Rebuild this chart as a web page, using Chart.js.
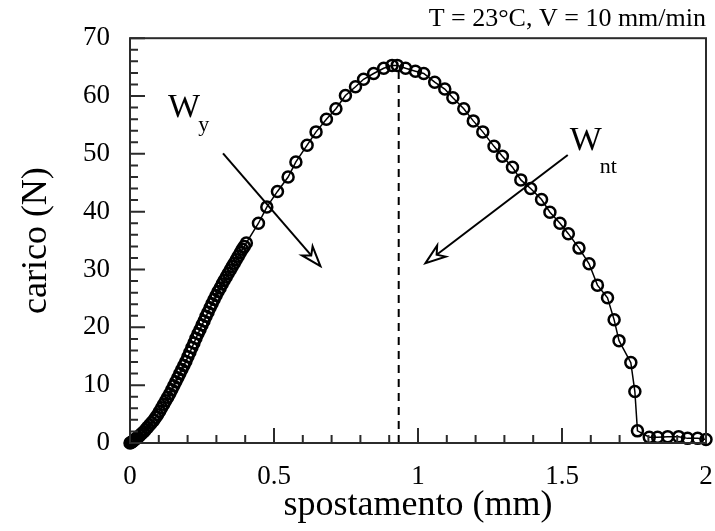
<!DOCTYPE html>
<html>

<head>
    <title>carico - spostamento</title>
    <script src="https://cdn.jsdelivr.net/npm/chart.js@4.4.0/dist/chart.umd.min.js"></script>

    <style type="text/css">
        html,
        body {
            margin: 0;
            padding: 0;
            background-color: #ffffff;
        }

        #box {
            width: 715px;
            height: 531px;
        }
    </style>
</head>

<body>
    <div id="box">
        <canvas id="chartLoad" width="715" height="531"></canvas>
    </div>

    <script>
        // spostamento (mm)
        const spostamento = [
            0.000, 0.004, 0.008, 0.012, 0.017, 0.022, 0.028, 0.034, 0.040, 0.047,
            0.054, 0.061, 0.068, 0.075, 0.082, 0.089, 0.096, 0.103, 0.110, 0.117,
            0.124, 0.131, 0.138, 0.145, 0.152, 0.159, 0.166, 0.173, 0.180, 0.187,
            0.194, 0.201, 0.208, 0.215, 0.222, 0.229, 0.236, 0.243, 0.250, 0.257,
            0.264, 0.271, 0.278, 0.285, 0.292, 0.299, 0.306, 0.313, 0.320, 0.327,
            0.334, 0.341, 0.348, 0.355, 0.362, 0.369, 0.376, 0.383, 0.390, 0.397,
            0.404,
            0.446, 0.475, 0.512, 0.549, 0.576, 0.615, 0.646, 0.682, 0.715, 0.748,
            0.783, 0.811, 0.846, 0.881, 0.910, 0.928, 0.957, 0.991, 1.020, 1.058,
            1.093, 1.121, 1.159, 1.192, 1.225, 1.264, 1.293, 1.328, 1.357, 1.391,
            1.429, 1.458, 1.493, 1.522, 1.559, 1.594, 1.623, 1.658, 1.681, 1.698,
            1.739, 1.753, 1.762, 1.803, 1.832, 1.867, 1.905, 1.936, 1.971, 2.000
        ];

        // carico (N)
        const carico = [
            0.0, 0.1, 0.2, 0.4, 0.6, 0.8, 1.0, 1.3, 1.6, 1.9,
            2.3, 2.7, 3.1, 3.5, 3.9, 4.4, 4.9, 5.5, 6.1, 6.7,
            7.3, 7.9, 8.5, 9.2, 9.9, 10.6, 11.3, 12.0, 12.7, 13.4,
            14.1, 14.9, 15.7, 16.5, 17.3, 18.1, 18.9, 19.6, 20.4, 21.1,
            21.9, 22.6, 23.4, 24.1, 24.8, 25.5, 26.2, 26.8, 27.5, 28.1,
            28.7, 29.3, 29.9, 30.5, 31.1, 31.7, 32.3, 32.9, 33.5, 34.0,
            34.6,
            38.0, 40.8, 43.5, 46.0, 48.6, 51.5, 53.8, 56.0, 57.8, 60.1,
            61.6, 62.9, 63.9, 64.8, 65.3, 65.3, 64.8, 64.3, 63.9, 62.4,
            61.2, 59.7, 57.8, 55.7, 53.8, 51.3, 49.6, 47.7, 45.5, 44.0,
            42.1, 39.9, 38.0, 36.2, 33.7, 31.0, 27.3, 25.1, 21.3, 17.7,
            13.9, 8.9, 2.1, 1.0, 1.0, 1.1, 1.1, 0.8, 0.8, 0.6
        ];

        // position of the maximum load (dashed marker)
        const piccoX = 0.933;
        const piccoY = 65.3;

        const xTicks = [0, 0.5, 1, 1.5, 2];
        const yTicks = [0, 10, 20, 30, 40, 50, 60, 70];

        const serif = "'Liberation Serif', 'Times New Roman', serif";

        // arrows and W labels, in data units
        const frecce = [
            { from: [0.323, 50.1], to: [0.661, 30.6] },
            { from: [1.520, 49.8], to: [1.026, 31.1] }
        ];
        const etichette = [
            { main: 'W', sub: 'y', at: [0.132, 56.3], subAt: [0.237, 53.9] },
            { main: 'W', sub: 'nt', at: [1.527, 50.6], subAt: [1.631, 46.7] }
        ];

        // frame, inner ticks, arrows and labels
        const extras = {
            id: 'extras',
            afterDatasetsDraw(chart) {
                const ctx = chart.ctx;
                const xs = chart.scales.x;
                const ys = chart.scales.y;
                const a = chart.chartArea;

                ctx.save();
                ctx.strokeStyle = '#2b2b2b';
                ctx.lineWidth = 2;
                ctx.beginPath();
                for (let i = 0; i <= 20; i++) {
                    const px = xs.getPixelForValue(i / 10);
                    const len = (i % 5 == 0) ? 15 : 8;
                    ctx.moveTo(px, a.bottom);
                    ctx.lineTo(px, a.bottom - len);
                }
                for (let i = 0; i <= 35; i++) {
                    const py = ys.getPixelForValue(i * 2);
                    const len = (i % 5 == 0) ? 15 : 8;
                    ctx.moveTo(a.left, py);
                    ctx.lineTo(a.left + len, py);
                }
                ctx.stroke();
                ctx.strokeRect(a.left, a.top, a.right - a.left, a.bottom - a.top);

                // arrows with open heads
                ctx.strokeStyle = '#000';
                ctx.lineWidth = 2;
                frecce.forEach(f => {
                    const x0 = xs.getPixelForValue(f.from[0]);
                    const y0 = ys.getPixelForValue(f.from[1]);
                    const x1 = xs.getPixelForValue(f.to[0]);
                    const y1 = ys.getPixelForValue(f.to[1]);
                    const ang = Math.atan2(y1 - y0, x1 - x0);
                    const hl = 20, hw = 7;
                    const bx = x1 - hl * Math.cos(ang);
                    const by = y1 - hl * Math.sin(ang);
                    const nx = -Math.sin(ang) * hw;
                    const ny = Math.cos(ang) * hw;
                    const mx = bx + (x1 - bx) * 0.3;
                    const my = by + (y1 - by) * 0.3;
                    ctx.beginPath();
                    ctx.moveTo(x0, y0);
                    ctx.lineTo(mx, my);
                    ctx.stroke();
                    ctx.beginPath();
                    ctx.moveTo(x1, y1);
                    ctx.lineTo(bx + nx, by + ny);
                    ctx.lineTo(mx, my);
                    ctx.lineTo(bx - nx, by - ny);
                    ctx.closePath();
                    ctx.fillStyle = '#fff';
                    ctx.fill();
                    ctx.stroke();
                });

                ctx.fillStyle = '#000';
                ctx.textAlign = 'left';
                ctx.textBaseline = 'alphabetic';
                etichette.forEach(e => {
                    ctx.font = '34px ' + serif;
                    ctx.fillText(e.main, xs.getPixelForValue(e.at[0]), ys.getPixelForValue(e.at[1]));
                    ctx.font = '22px ' + serif;
                    ctx.fillText(e.sub, xs.getPixelForValue(e.subAt[0]), ys.getPixelForValue(e.subAt[1]));
                });
                ctx.restore();
            }
        };

        window.onload = function() {
            let ctx = document.getElementById('chartLoad').getContext('2d');

            let punti = spostamento.map((x, i) => ({ x: x, y: carico[i] }));

            new Chart(ctx, {
                type: 'scatter',
                data: {
                    datasets: [{
                        data: punti,
                        showLine: true,
                        borderColor: '#000',
                        borderWidth: 1.5,
                        pointRadius: 5.5,
                        pointBorderWidth: 2.5,
                        pointBorderColor: '#000',
                        pointBackgroundColor: 'rgba(0,0,0,0)',
                        tension: 0
                    }, {
                        data: [{ x: piccoX, y: 0 }, { x: piccoX, y: piccoY }],
                        showLine: true,
                        borderColor: '#000',
                        borderWidth: 2,
                        borderDash: [8, 6],
                        pointRadius: 0
                    }]
                },
                options: {
                    responsive: false,
                    animation: false,
                    clip: false,
                    layout: {
                        padding: { top: 0, right: 9, bottom: 0, left: 0 }
                    },
                    plugins: {
                        legend: { display: false },
                        tooltip: { enabled: false },
                        title: {
                            display: true,
                            text: 'T = 23°C, V = 10 mm/min',
                            align: 'end',
                            color: '#000',
                            font: { family: serif, size: 26, weight: 'normal' },
                            padding: { top: 4, bottom: 3 }
                        }
                    },
                    scales: {
                        x: {
                            type: 'linear',
                            min: 0,
                            max: 2,
                            afterBuildTicks: s => { s.ticks = xTicks.map(v => ({ value: v })); },
                            afterFit: s => {
                                s.height = 88;
                                s.paddingLeft = 0;
                                s.paddingRight = 0;
                            },
                            grid: { display: false, drawTicks: false },
                            border: { display: false },
                            ticks: {
                                color: '#000',
                                padding: 18,
                                maxRotation: 0,
                                font: { family: serif, size: 27 },
                                callback: v => String(v)
                            },
                            title: {
                                display: true,
                                text: 'spostamento (mm)',
                                color: '#000',
                                font: { family: serif, size: 36 },
                                padding: { top: 0, bottom: 4 }
                            }
                        },
                        y: {
                            type: 'linear',
                            min: 0,
                            max: 70,
                            afterBuildTicks: s => { s.ticks = yTicks.map(v => ({ value: v })); },
                            afterFit: s => {
                                s.width = 130;
                                s.paddingTop = 0;
                                s.paddingBottom = 0;
                            },
                            grid: { display: false, drawTicks: false },
                            border: { display: false },
                            ticks: {
                                color: '#000',
                                padding: 20,
                                font: { family: serif, size: 27 }
                            },
                            title: {
                                display: true,
                                text: 'carico (N)',
                                color: '#000',
                                font: { family: serif, size: 36 },
                                padding: { top: 15, bottom: 0 }
                            }
                        }
                    }
                },
                plugins: [extras]
            });
        };
    </script>
</body>

</html>
